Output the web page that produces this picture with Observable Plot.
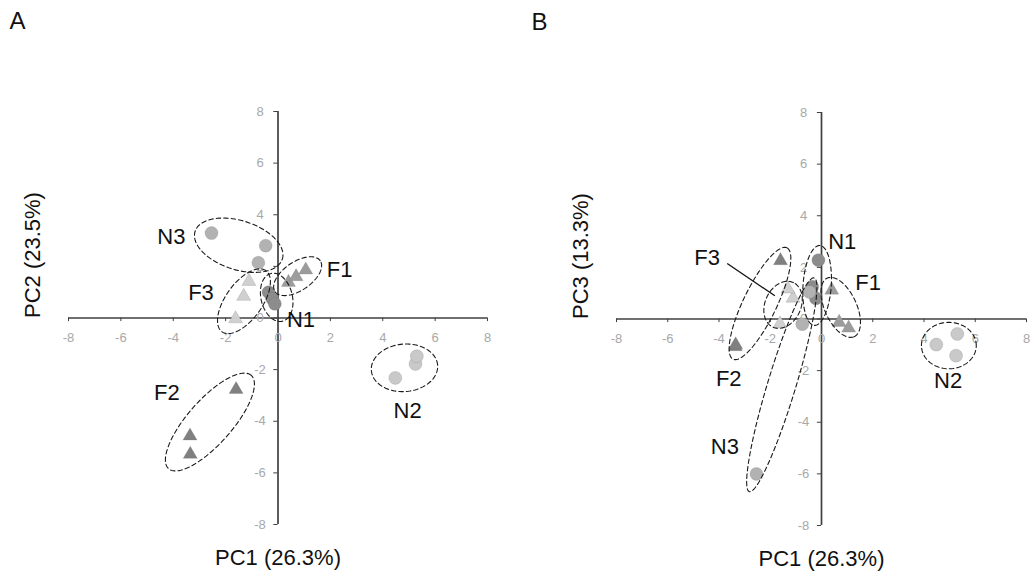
<!DOCTYPE html>
<html>
<head>
<meta charset="utf-8">
<script src="https://cdn.jsdelivr.net/npm/d3@7"></script>
<script src="https://cdn.jsdelivr.net/npm/@observablehq/plot@0.6"></script>
<style>
  html, body { margin: 0; padding: 0; background: #fff; }
  #wrap { display: flex; width: 1030px; height: 583px; }
</style>
</head>
<body>
<div id="wrap"></div>
<script>
// ---------- data ----------
const groups = ["N1", "N2", "N3", "F1", "F2", "F3"];
const sampleGroup = ["N1","N1","N1","N2","N2","N2","N3","N3","N3","F1","F1","F1","F2","F2","F2","F3","F3","F3"];
const pc1 = [-0.36, -0.22, -0.12, 4.48, 5.25, 5.30, -2.54, -0.47, -0.75, 0.40, 0.69, 1.06, -1.60, -3.36, -3.35, -1.11, -1.31, -1.62];
const pc2 = [ 1.00,  0.75,  0.55, -2.32, -1.78, -1.48, 3.29, 2.80, 2.14, 1.38, 1.60, 1.86, -2.77, -4.57, -5.28, 1.42, 0.84, -0.03];
const pc3 = [ 1.25,  0.80,  2.28, -0.99, -1.42, -0.58, -6.00, 1.05, -0.20, 1.12, -0.13, -0.35, 2.26, -1.07, -1.00, 0.81, 1.16, -0.19];

const ticks = [-8, -6, -4, -2, 0, 2, 4, 6, 8];

// ellipse outlines (data units): group, centre, semi-axes, rotation (deg)
const ellGroupA = ["N3", "F1", "F3", "N1", "F2", "N2"];
const ellCxA = [-1.50, 0.75, -1.30, -0.05, -2.60, 4.83];
const ellCyA = [ 2.82, 1.62,  0.65,  0.80, -4.03, -1.93];
const ellRxA = [ 1.75, 1.05,  1.45,  0.95,  2.40, 1.27];
const ellRyA = [ 0.95, 0.55,  0.70,  0.60,  0.85, 0.92];
const ellAngA = [-18, 35, 55, 103, 49, 5];

const ellGroupB = ["F2", "F3", "N3", "N1", "F1", "N2"];
const ellCxB = [-2.40, -1.50, -1.55, -0.17, 0.75, 4.97];
const ellCyB = [ 0.60,  0.55, -2.55,  1.30, 0.45, -1.03];
const ellRxB = [ 2.40,  0.95,  4.33,  1.55, 1.25, 1.07];
const ellRyB = [ 0.65,  0.70,  0.55,  0.55, 0.62, 0.90];
const ellAngB = [64, 65, 73, 86, -65, 0];

// group labels
const labGroupA = ["N3", "F1", "F3", "N1", "F2", "N2"];
const labXA = [-4.07, 2.35, -2.94, 0.88, -4.24, 4.95];
const labYA = [ 3.15, 1.88,  0.97, -0.07, -2.89, -3.60];

const labGroupB = ["N1", "F1", "F3", "F2", "N2", "N3"];
const labXB = [0.81, 1.82, -4.46, -3.62, 4.94, -3.77];
const labYB = [2.97, 1.38,  2.36, -2.32, -2.39, -4.97];

// leader line for F3 in panel B
const leaderB = {x1: -3.68, y1: 2.15, x2: -1.82, y2: 0.90};

// ---------- styling ----------
const fills = ["#8c8c8c", "#c9c9c9", "#b2b2b2", "#9c9c9c", "#808080", "#d0d0d0"];
const symbols = ["circle", "circle", "circle", "triangle", "triangle", "triangle"];
const FONT = "'Liberation Sans', Arial, sans-serif";

const samples = sampleGroup.map((g, i) => ({group: g, pc1: pc1[i], pc2: pc2[i], pc3: pc3[i]}));

function ellipsePoints(gs, cx, cy, rx, ry, ang) {
  const pts = [];
  gs.forEach((g, i) => {
    const a = ang[i] * Math.PI / 180;
    for (let k = 0; k <= 120; k++) {
      const t = 2 * Math.PI * k / 120;
      const ex = rx[i] * Math.cos(t), ey = ry[i] * Math.sin(t);
      pts.push({g, x: cx[i] + ex * Math.cos(a) - ey * Math.sin(a), y: cy[i] + ex * Math.sin(a) + ey * Math.cos(a)});
    }
  });
  return pts;
}

function panel(opts) {
  const {yKey, ml, mr, mt, mb, letter, letterDx, ytitle, ell, labs, leader} = opts;
  const marks = [
    Plot.ruleY([0], {stroke: "#404040", strokeWidth: 1.7}),
    Plot.ruleX([0], {stroke: "#404040", strokeWidth: 1.7}),
    Plot.ruleX(ticks, {x: d => d, y1: 0, y2: -0.14, stroke: "#404040", strokeWidth: 1}),
    Plot.ruleY(ticks, {y: d => d, x1: -0.16, x2: 0, stroke: "#404040", strokeWidth: 1}),
    Plot.text(ticks, {x: d => d, y: 0, dy: 20, text: d => String(d), fill: "#a8a8a8", fontSize: 13}),
    Plot.text(ticks, {x: 0, y: d => d, dx: -18, text: d => String(d), fill: "#a8a8a8", fontSize: 13}),
    Plot.dot(samples.filter(d => d.group[0] === "N"), {x: "pc1", y: yKey, symbol: "group", fill: "group", r: 6.5, stroke: "#6a6a6a", strokeOpacity: 0.35, strokeWidth: 0.6}),
    Plot.dot(samples.filter(d => d.group[0] === "F"), {x: "pc1", y: yKey, symbol: "group", fill: "group", r: 5.2, stroke: "#6a6a6a", strokeOpacity: 0.35, strokeWidth: 0.6}),
    Plot.line(ell, {x: "x", y: "y", z: "g", stroke: "#1a1a1a", strokeWidth: 1.1, strokeDasharray: "4.5,3", curve: "linear"}),
    Plot.text(labs, {x: "x", y: "y", text: "t", fontSize: 22, fill: "#111"}),
    Plot.text([letter], {frameAnchor: "top-left", dx: letterDx, dy: -100, text: d => d, fontSize: 24, textAnchor: "start", lineAnchor: "top", fill: "#111"}),
    Plot.text(["PC1 (26.3%)"], {frameAnchor: "bottom", dy: 40, text: d => d, fontSize: 22, fill: "#111"}),
    Plot.text([ytitle], {frameAnchor: "left", dx: -36, rotate: -90, text: d => d, fontSize: 22, fill: "#111"})
  ];
  if (leader) marks.push(Plot.link([leader], {x1: "x1", y1: "y1", x2: "x2", y2: "y2", stroke: "#111", strokeWidth: 1.3}));
  return Plot.plot({
    width: 515, height: 583,
    marginLeft: ml, marginRight: mr, marginTop: mt, marginBottom: mb,
    x: {domain: [-8, 8], axis: null},
    y: {domain: [-8, 8], axis: null},
    color: {domain: groups, range: fills},
    symbol: {domain: groups, range: symbols},
    style: {fontFamily: FONT, background: "#fff", overflow: "visible"},
    marks
  });
}

const labsA = labGroupA.map((t, i) => ({t, x: labXA[i], y: labYA[i]}));
const labsB = labGroupB.map((t, i) => ({t, x: labXB[i], y: labYB[i]}));

const wrap = document.getElementById("wrap");
wrap.appendChild(panel({
  yKey: "pc2", ml: 68, mr: 28, mt: 111, mb: 59, letter: "A", letterDx: -59,
  ytitle: "PC2 (23.5%)",
  ell: ellipsePoints(ellGroupA, ellCxA, ellCyA, ellRxA, ellRyA, ellAngA),
  labs: labsA
}));
wrap.appendChild(panel({
  yKey: "pc3", ml: 101, mr: 4, mt: 112, mb: 58, letter: "B", letterDx: -85,
  ytitle: "PC3 (13.3%)",
  ell: ellipsePoints(ellGroupB, ellCxB, ellCyB, ellRxB, ellRyB, ellAngB),
  labs: labsB, leader: leaderB
}));
</script>
</body>
</html>
